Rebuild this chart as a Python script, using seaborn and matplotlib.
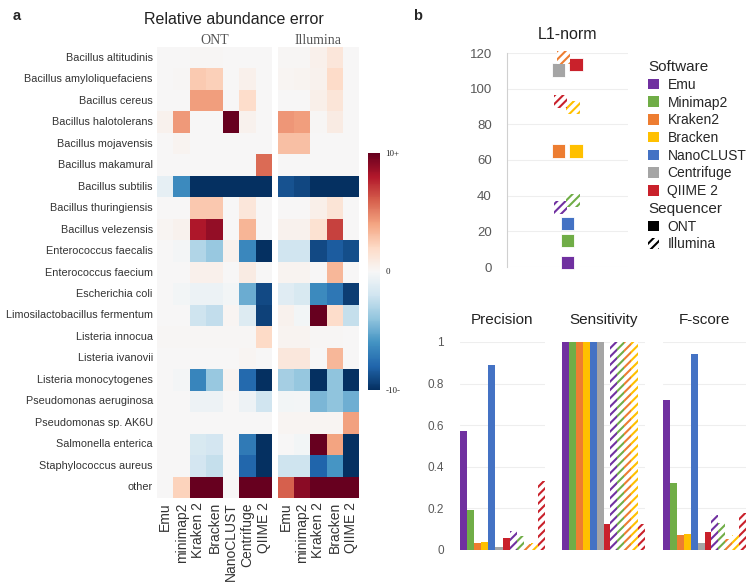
import numpy as np
import pandas as pd
import seaborn as sns
import matplotlib.pyplot as plt
import matplotlib.patches as mpatches

# ---- data ----
species = [
    "Bacillus altitudinis", "Bacillus amyloliquefaciens", "Bacillus cereus",
    "Bacillus halotolerans", "Bacillus mojavensis", "Bacillus makamural",
    "Bacillus subtilis", "Bacillus thuringiensis", "Bacillus velezensis",
    "Enterococcus faecalis", "Enterococcus faecium", "Escherichia coli",
    "Limosilactobacillus fermentum", "Listeria innocua", "Listeria ivanovii",
    "Listeria monocytogenes", "Pseudomonas aeruginosa", "Pseudomonas sp. AK6U",
    "Salmonella enterica", "Staphylococcus aureus", "other",
]
ont_tools = ["Emu", "minimap2", "Kraken 2", "Bracken", "NanoCLUST", "Centrifuge", "QIIME 2"]
ill_tools = ["Emu", "minimap2", "Kraken 2", "Bracken", "QIIME 2"]

# relative abundance error (clipped at +/-10)
ont_err = [
    [0.0, 0.0, 0.1, 0.1, 0.0, 0.0, 0.0],
    [0.0, 0.1, 2.6, 2.4, 0.0, 0.5, 0.0],
    [0.0, 0.0, 4.2, 4.2, 0.0, 1.8, 0.0],
    [0.4, 4.3, 0.0, 0.0, 10.0, 0.4, 0.0],
    [0.0, 0.3, 0.0, 0.0, 0.0, 0.0, 0.0],
    [0.0, 0.0, 0.0, 0.0, 0.0, 0.0, 5.7],
    [-0.9, -6.4, -10.0, -10.0, -10.0, -10.0, -10.0],
    [0.0, 0.0, 2.7, 2.7, 0.0, 1.2, 0.0],
    [0.2, 0.4, 8.1, 8.8, 0.0, 3.4, 0.0],
    [0.0, -0.2, -3.0, -3.8, 0.4, -6.5, -10.0],
    [0.0, 0.0, 0.5, 0.5, 0.0, 0.8, 0.0],
    [0.0, -0.3, -0.6, -0.6, -0.3, -5.0, -9.0],
    [0.0, 0.0, -2.1, -2.5, 0.2, -1.4, -9.3],
    [0.1, 0.1, 0.1, 0.1, 0.1, 0.1, 2.0],
    [0.0, 0.0, 0.0, 0.0, 0.0, 0.2, 0.0],
    [0.0, -0.2, -6.6, -3.8, 0.3, -7.8, -10.0],
    [0.0, 0.0, -0.5, -0.5, 0.0, -0.5, -2.0],
    [0.0, 0.0, 0.0, 0.0, 0.0, 0.0, 0.0],
    [0.0, 0.0, -1.6, -1.8, 0.0, -7.1, -10.0],
    [0.0, 0.0, -1.8, -2.4, 0.0, -7.9, -10.0],
    [0.0, 2.3, 10.0, 10.0, 0.0, 10.0, 10.0],
]
ill_err = [
    [0.1, 0.1, 0.5, 1.2, 0.0],
    [0.2, 0.3, 0.4, 1.9, 0.0],
    [0.0, 0.0, 0.6, 1.3, 0.0],
    [4.4, 4.2, 0.1, 0.8, 0.0],
    [3.0, 3.0, 0.0, 0.0, 0.0],
    [0.0, 0.0, 0.0, 0.0, 0.0],
    [-8.7, -9.1, -10.0, -10.0, -10.0],
    [0.0, 0.0, 0.6, 1.4, 0.0],
    [0.4, 0.4, 1.5, 6.8, 0.0],
    [-2.0, -2.0, -9.0, -8.3, -8.9],
    [0.3, 0.3, 0.0, 3.3, 0.0],
    [-1.2, -1.6, -6.4, -7.2, -9.5],
    [0.4, -0.3, 10.0, 1.8, -2.4],
    [0.3, 0.3, 0.1, 0.1, 0.0],
    [1.1, 1.1, 0.0, 3.3, 0.0],
    [-3.4, -3.9, -10.0, -4.0, -10.0],
    [-0.3, -0.2, -4.6, -4.0, -4.9],
    [0.2, 0.2, 0.2, 0.2, 4.1],
    [0.0, -0.3, 10.0, 4.0, -10.0],
    [-2.1, -2.1, -8.0, -5.9, -10.0],
    [6.0, 9.0, 10.0, 10.0, 10.0],
]

software = ["Emu", "Minimap2", "Kraken2", "Bracken", "NanoCLUST", "Centrifuge", "QIIME 2"]
sw_colors = ["#7030a0", "#70ad47", "#ed7d31", "#ffc000", "#4472c4", "#a5a5a5", "#c9212b"]

run_tool = ["Emu", "Minimap2", "Kraken2", "Bracken", "NanoCLUST", "Centrifuge", "QIIME 2",
            "Emu", "Minimap2", "Kraken2", "Bracken", "QIIME 2"]
run_seq = ["ONT"] * 7 + ["Illumina"] * 5
l1_norm = [2.5, 15.0, 65.0, 65.0, 24.5, 110.5, 113.5, 33.5, 37.5, 117.5, 89.5, 93.0]
precision = [0.57, 0.19, 0.035, 0.04, 0.89, 0.015, 0.06, 0.09, 0.065, 0.03, 0.035, 0.33]
sensitivity = [1, 1, 1, 1, 1, 1, 0.125, 1, 1, 1, 1, 0.125]
fscore = [0.72, 0.32, 0.07, 0.075, 0.94, 0.035, 0.085, 0.17, 0.13, 0.055, 0.07, 0.18]

# horizontal dodge of the L1 squares (layout only)
l1_dodge = [0, 0, -0.15, 0.14, 0, -0.15, 0.14, -0.12, 0.09, -0.06, 0.09, -0.12]

# ---- style ----
sns.set_style("white")
plt.rcParams["font.family"] = ["Liberation Sans", "DejaVu Sans"]
plt.rcParams["hatch.linewidth"] = 1.5
serif = ["Liberation Serif", "DejaVu Serif"]
HATCH = "////"
color_of = dict(zip(software, sw_colors))

W, H = 748, 584
fig = plt.figure(figsize=(W / 100, H / 100), dpi=100)


def box(x0, y0, x1, y1):
    return [x0 / W, 1 - y1 / H, (x1 - x0) / W, (y1 - y0) / H]


# ---- panel a: heatmap ----
ax_ont = fig.add_axes(box(157, 47, 272, 498))
ax_ill = fig.add_axes(box(278, 47, 359, 498))
cax = fig.add_axes(box(368, 153, 380, 390))

df_ont = pd.DataFrame(ont_err, index=species, columns=ont_tools)
df_ill = pd.DataFrame(ill_err, index=species, columns=ill_tools)

sns.heatmap(df_ont, ax=ax_ont, cmap="RdBu_r", vmin=-10, vmax=10,
            cbar=True, cbar_ax=cax, xticklabels=True, yticklabels=True)
sns.heatmap(df_ill, ax=ax_ill, cmap="RdBu_r", vmin=-10, vmax=10,
            cbar=False, xticklabels=True, yticklabels=False)

for ax in (ax_ont, ax_ill):
    ax.tick_params(axis="x", length=0, labelsize=10, labelcolor="#333333",
                   rotation=90, pad=3)
    ax.set_xlabel("")
    ax.set_ylabel("")
ax_ont.tick_params(axis="y", length=0, labelsize=7.8, labelcolor="#333333", pad=3)

ax_ont.set_title("ONT", fontfamily=serif, fontsize=10, color="#555555", pad=2.5)
ax_ill.set_title("Illumina", fontfamily=serif, fontsize=10, color="#555555", pad=2.5)

cbar = ax_ont.collections[0].colorbar
cbar.set_ticks([10, 0, -10])
cbar.set_ticklabels(["10+", "0", "-10-"])
cbar.outline.set_visible(False)
cax.tick_params(length=0, labelsize=6.5, pad=4)
for t in cax.get_yticklabels():
    t.set_fontfamily(serif)

fig.text(234 / W, 1 - 19 / H, "Relative abundance error", ha="center", va="center",
         fontsize=11.5, color="#222222")
fig.text(13 / W, 1 - 16 / H, "a", fontweight="bold", fontsize=10.5, va="center")
fig.text(413 / W, 1 - 16 / H, "b", fontweight="bold", fontsize=10.5, va="center")

# ---- panel b: L1-norm ----
ax_l1 = fig.add_axes(box(507, 53, 628, 267))
l1 = pd.DataFrame({"tool": run_tool, "seq": run_seq, "l1": l1_norm, "dx": l1_dodge})
ont = l1[l1.seq == "ONT"]
sns.scatterplot(data=ont, x="dx", y="l1", hue="tool", palette=color_of, marker="s",
                s=90, edgecolor="white", linewidth=0.6, legend=False, ax=ax_l1,
                clip_on=False, zorder=3)
for _, r in l1[l1.seq == "Illumina"].iterrows():
    c = color_of[r.tool]
    with plt.rc_context({"hatch.color": c}):
        ax_l1.scatter([r.dx], [r.l1], marker="s", s=90, facecolor="white",
                      edgecolor=c, linewidth=0, hatch=HATCH, clip_on=False, zorder=3)
ax_l1.set_xlim(-1, 1)
ax_l1.set_ylim(0, 120)
ax_l1.set_yticks(range(0, 121, 20))
ax_l1.set_xticks([])
ax_l1.set_xlabel("")
ax_l1.set_ylabel("")
ax_l1.grid(axis="y", color="#eeeeee", linewidth=0.8)
ax_l1.set_axisbelow(True)
for s in ("top", "right", "bottom"):
    ax_l1.spines[s].set_visible(False)
ax_l1.spines["left"].set_color("#d0d0d0")
ax_l1.tick_params(axis="y", length=0, labelsize=9.5, labelcolor="#595959", pad=11)
ax_l1.set_title("L1-norm", fontsize=11.5, color="#222222", pad=10)

# legends
leg_kw = dict(loc="upper left", frameon=False, fontsize=10, title_fontsize=11,
              handlelength=0.8, handleheight=0.8, handletextpad=0.6,
              labelspacing=0.27, borderpad=0, borderaxespad=0, alignment="left")
sw_handles = [mpatches.Patch(facecolor=c, edgecolor="none", label=n)
              for n, c in zip(software, sw_colors)]
fig.legend(handles=sw_handles, title="Software",
           bbox_to_anchor=(648 / W, 1 - 60 / H), **leg_kw)
with plt.rc_context({"hatch.color": "black"}):
    seq_handles = [mpatches.Patch(facecolor="black", edgecolor="none", label="ONT"),
                   mpatches.Patch(facecolor="white", edgecolor="black", linewidth=0,
                                  hatch=HATCH, label="Illumina")]
fig.legend(handles=seq_handles, title="Sequencer",
           bbox_to_anchor=(648 / W, 1 - 202 / H), **leg_kw)

# ---- panel b: bar charts ----
run_key = [f"{s} {t}" for s, t in zip(run_seq, run_tool)]
key_color = {k: color_of[t] for k, t in zip(run_key, run_tool)}
panels = [("Precision", precision, (460, 545)),
          ("Sensitivity", sensitivity, (562, 645)),
          ("F-score", fscore, (663, 746))]
for i, (title, vals, (x0, x1)) in enumerate(panels):
    ax = fig.add_axes(box(x0, 342, x1, 550))
    sns.barplot(x=run_key, y=vals, hue=run_key, order=run_key, hue_order=run_key,
                palette=key_color, width=1, saturation=1, linewidth=0,
                legend=False, ax=ax)
    for p in ax.patches:
        idx = int(round(p.get_x() + p.get_width() / 2))
        if run_seq[idx] == "Illumina":
            c = key_color[run_key[idx]]
            p.set_facecolor("white")
            p.set_edgecolor(c)
            p.set_linewidth(0)
            p.set_hatch(HATCH)
    ax.set_xlim(-0.5, 11.5)
    ax.set_ylim(0, 1)
    ax.set_xticks([])
    ax.set_yticks([0, 0.2, 0.4, 0.6, 0.8, 1.0])
    ax.set_yticklabels(["0", "0.2", "0.4", "0.6", "0.8", "1"])
    ax.set_xlabel("")
    ax.set_ylabel("")
    ax.grid(axis="y", color="#eeeeee", linewidth=0.8)
    ax.set_axisbelow(True)
    sns.despine(ax=ax, left=True, bottom=True)
    ax.tick_params(axis="y", length=0, labelsize=8.5, labelcolor="#595959", pad=11.5,
                   labelleft=(i == 0))
    ax.set_title(title, fontsize=11, color="#222222", pad=13)

fig.savefig("out.png", dpi=100)
